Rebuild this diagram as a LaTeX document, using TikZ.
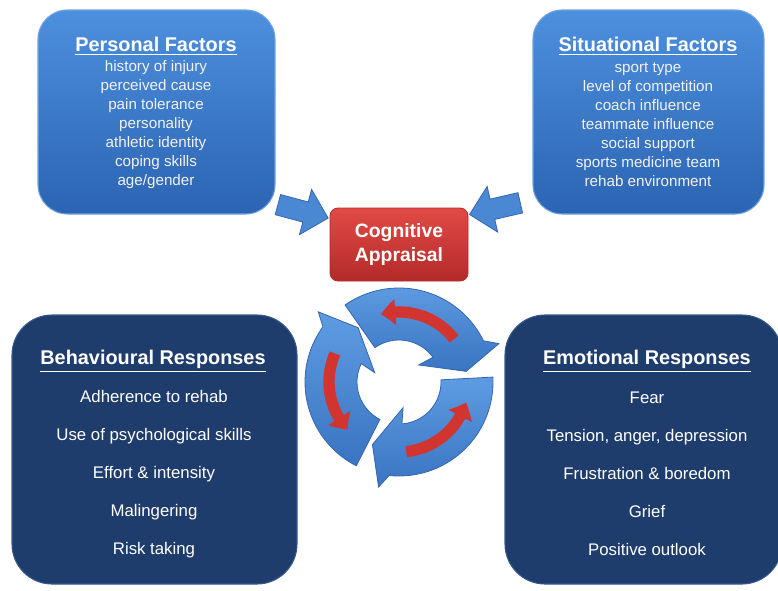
\documentclass[tikz,border=0pt]{standalone}
\usepackage{fontspec}
\setmainfont{Liberation Sans}
\definecolor{FactorTop}{HTML}{4D90DE}
\definecolor{FactorBot}{HTML}{2B64B2}
\definecolor{FactorEdge}{HTML}{6FA3E2}
\definecolor{RespNavy}{HTML}{1F3D6C}
\definecolor{RespEdge}{HTML}{36598E}
\definecolor{ApprTop}{HTML}{E24A46}
\definecolor{ApprBot}{HTML}{B32A28}
\definecolor{CycleBlue}{HTML}{4A88D4}
\definecolor{CycleLight}{HTML}{5E9CE2}
\definecolor{CycleDark}{HTML}{3A74C2}
\definecolor{CycleEdge}{HTML}{3366B0}
\definecolor{CycleRed}{HTML}{D2342F}
\definecolor{TextLight}{HTML}{F2F2F2}
\usepackage{tikz}
\usetikzlibrary{arrows.meta,bending,shapes.arrows,positioning}

\begin{document}
\begin{tikzpicture}[x=0.75pt,y=0.75pt,
  factorbox/.style={draw=FactorEdge,line width=0.8pt,top color=FactorTop,bottom color=FactorBot,
    rounded corners=22pt,minimum height=153pt},
  respbox/.style={draw=RespEdge,line width=0.8pt,fill=RespNavy,rounded corners=30pt,minimum height=201.75pt},
  boxtitle/.style={text=white,font=\bfseries\fontsize{14.9}{18}\selectfont},
  factorlist/.style={text=TextLight,align=center,font=\fontsize{11.4}{14.25}\selectfont},
  resplist/.style={text=white,align=center,font=\fontsize{12.6}{28.5}\selectfont},
  blockarrow/.style={single arrow,draw=CycleEdge,line width=0.6pt,fill=CycleBlue,minimum height=39pt,
    inner xsep=0pt,inner ysep=7.5pt,single arrow head extend=9.75pt,single arrow tip angle=90},
  cycleblue/.style={draw=CycleEdge,line width=0.6pt,top color=CycleLight,bottom color=CycleDark},
  cyclered/.style={draw=CycleRed,line width=8.5pt,-{Triangle[width=19pt,length=11pt,bend]}}]
  \useasboundingbox (0,0) rectangle (778,-590);

  % factor boxes
  \node[factorbox,minimum width=177.75pt] (pers) at (156.5,-112) {};
  \node[boxtitle] (persTitle) at (156,-46) {\underline{Personal Factors}};
  \node[factorlist] (persList) at (156,-125) {history of injury\\perceived cause\\pain tolerance\\personality\\athletic identity\\coping skills\\age/gender};

  \node[factorbox,minimum width=173.25pt] (sit) at (648.5,-112) {};
  \node[boxtitle] (sitTitle) at (648,-46) {\underline{Situational Factors}};
  \node[factorlist] (sitList) at (648,-125) {sport type\\level of competition\\coach influence\\teammate influence\\social support\\sports medicine team\\rehab environment};

  % appraisal
  \node[draw=ApprBot,line width=0.6pt,top color=ApprTop,bottom color=ApprBot,rounded corners=6pt,
        minimum width=103.5pt,minimum height=54.75pt,text=white,align=center,
        font=\bfseries\fontsize{14.5}{18}\selectfont] (appr) at (399,-244.5) {Cognitive\\Appraisal};

  \node[blockarrow,rotate=-15] (persArrow) at (298,-210) {};
  \node[blockarrow,rotate=193] (sitArrow) at (500,-207.5) {};

  % response boxes
  \node[respbox,minimum width=213.75pt] (behav) at (154.5,-449.5) {};
  \node[boxtitle] (behavTitle) at (153,-361) {\underline{Behavioural Responses}};
  \node[resplist] (behavList) at (154,-474) {Adherence to rehab\\Use of psychological skills\\Effort \& intensity\\Malingering\\Risk taking};

  \node[respbox,minimum width=207.75pt] (emot) at (643.5,-449.5) {};
  \node[boxtitle] (emotTitle) at (647,-361) {\underline{Emotional Responses}};
  \node[resplist] (emotList) at (647,-474) {Fear\\Tension, anger, depression\\Frustration \& boredom\\Grief\\Positive outlook};

  % cycle of three curved arrows
  \begin{scope}[shift={(399,-382)}]
    \foreach \a in {125,3,-117} {
      \draw[cycleblue] (\a:94) arc[start angle=\a,end angle=\a-99,radius=94]
        -- (\a-104:107) -- (\a-116:68) -- (\a-84:26) -- (\a-89:42)
        arc[start angle=\a-89,end angle=\a,radius=42] -- cycle;
      \draw[cyclered] (\a-87:70) arc[start angle=\a-87,end angle=\a-20,radius=70];
    }
  \end{scope}
\end{tikzpicture}
\end{document}
